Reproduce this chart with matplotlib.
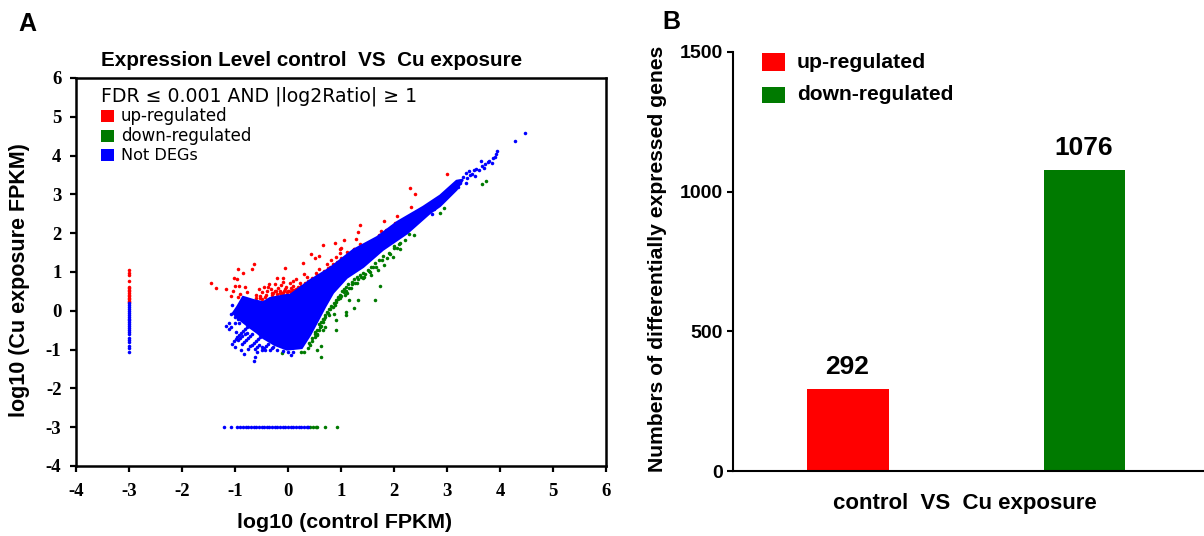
import matplotlib
matplotlib.use('Agg')
import matplotlib.pyplot as plt
from matplotlib.patches import Rectangle

########################################################################################
# Panel A, values (log10 FPKM)
cloud_x = [-1.04, -0.96, -0.85, -0.66, -0.47, -0.34, -0.02, 0.04, 0.42, 0.79, 1.23, 1.68, 2.06, 2.55, 2.87, 3.18,
           3.3, 3.18, 2.87, 2.68, 2.25, 1.79, 1.42, 1.11, 0.85, 0.7, 0.6, 0.42, 0.26, -0.02, -0.25, -0.47, -0.58,
           -0.75, -0.9]
cloud_y = [-0.06, 0.1, 0.36, 0.28, 0.22, 0.33, 0.41, 0.41, 0.79, 1.1, 1.57, 1.9, 2.29, 2.68, 2.97, 3.35,
           3.38, 3.12, 2.7, 2.52, 2.0, 1.57, 1.13, 0.85, 0.46, 0.1, -0.16, -0.62, -0.96, -1.0, -0.88, -0.7, -0.57,
           -0.4, -0.24]

blue_x = [4.48, 4.29, 3.92, 3.87, 3.8, 3.72, 3.64, 3.5, 3.35, 3.2, 3.1, 2.75, 2.72, 2.65,
          3.95, 3.9, 3.84, 3.78, 3.7, 3.66, 3.6, 3.55, 3.48, 3.42, 3.38, 3.3, 3.25, 3.35, 3.44, 3.52,
          -1.17, -1.12, -1.0, -0.92, -1.08, -1.05, -1.05, -1.0, -0.88, -0.83, -0.75, -0.65, -0.62, -0.59,
          -0.5, -0.44, -0.28, 0.06, -0.97, -0.93, -0.89, -0.85, -0.81, -0.77, -0.73, -0.87, -0.83,
          -0.79, -0.75, -0.71, -0.67, -0.98, -0.72, -0.68, -0.64, -0.6, -0.56, -0.52, -0.62, -0.58, -0.54,
          -0.5, -0.46, -0.42, -0.38, -0.34, -0.3, -0.2, -0.1, 0.0, 0.1,
          -1.02, -0.98, -0.94, -0.9, -0.86, -0.82, -0.78, -1.0, -0.95, -1.12, -1.07]
blue_y = [4.58, 4.38, 4.04, 3.95, 3.85, 3.78, 3.87, 3.62, 3.55, 3.2, 3.15, 2.62, 2.5, 2.55,
          4.12, 3.97, 3.8, 3.83, 3.68, 3.72, 3.62, 3.66, 3.52, 3.6, 3.42, 3.45, 3.3, 3.3, 3.5, 3.48,
          -0.39, -0.31, -0.31, -0.31, -0.08, 0.14, -0.85, -0.93, -1.0, -1.12, -0.98, -1.29, -1.19, -1.06,
          -0.93, -1.02, -0.93, -1.13, -0.68, -0.63, -0.58, -0.53, -0.48, -0.43, -0.38, -0.85, -0.80,
          -0.75, -0.70, -0.65, -0.6, -0.55, -0.92, -0.87, -0.82, -0.77, -0.72, -0.67, -0.98, -0.93, -0.88,
          -1.0, -0.95, -0.9, -0.85, -1.02, -0.97, -1.0, -1.04, -1.05, -1.06,
          -0.78, -0.72, -0.76, -0.7, -0.66, -0.6, -0.56, -0.15, -0.2, -0.46, -0.42]

red_x = [-1.45, -1.35, -0.64, -0.68, -0.94, -0.84, -1.02, -0.97, -1.0, -0.93, -0.81, -1.17, -1.03, -0.9, -0.78,
         -1.07, -0.95, -0.6, -0.55, -0.5, -0.45, -0.4, -0.35, -0.33, -0.28, -0.25, -0.22, -0.18, -0.15, -0.1,
         -0.08, -0.04, 0.0, 0.03, 0.06, 0.1, 0.12, 0.15, 0.18, 0.22, 0.25, 0.3, 0.33, 0.38, 0.42, 0.46, 0.5,
         0.55, 0.6, 0.65, 0.68, 0.72, 0.76, 0.8, 0.84, 0.88, 0.92, 0.96, 1.0, 1.05, 1.1, 1.15, 1.2, 1.26,
         1.32, 1.38, 1.44, 1.5, 1.58, 1.65, 1.72, 1.78, 1.85, 1.95, 2.02, -0.05, -0.2, -0.09, 0.28, 0.44, 0.51,
         0.59, 0.66, 0.89, 1.06, 1.28, 1.36, 1.32, 1.82, 2.06, 2.33, 2.4, 2.3, 3.0, -0.5, -0.62,
         -0.52, -0.42, -0.3, -0.2, -0.12, -0.02, 0.08, 0.16, 0.24, 0.32, 0.4, 0.48, 0.56, 0.62, 0.7, 0.78, 0.86,
         0.94, 1.02, 1.08, 1.14, 1.22, 1.3, 1.4, 1.48, 1.56, 1.62, 1.7, 0.52, 0.74, 0.82, 0.9, 0.98, 1.12, 1.24,
         1.35, -0.38, -0.14, 0.1, 0.36, 0.58, 0.98, 1.0, 1.75, 1.9,
         -0.3, -0.25, -0.15, -0.1, -0.05, 0.02, 0.05, 0.1, 0.15, 0.2, 0.25, 0.3, 0.35, 0.4, 0.45, 0.5, 0.55, 0.6,
         0.65, 0.7, 0.75, 0.8, 0.85, 0.9, 0.95, 1.05, 1.1, 1.15, 1.25, -0.6, -0.52, -0.44]
red_y = [0.71, 0.58, 1.21, 1.07, 1.07, 0.97, 0.85, 0.82, 0.65, 0.64, 0.61, 0.56, 0.51, 0.44, 0.48,
         0.37, 0.35, 0.42, 0.55, 0.48, 0.62, 0.5, 0.68, 0.55, 0.45, 0.7, 0.5, 0.6, 0.46, 0.75,
         0.52, 0.62, 0.5, 0.72, 0.58, 0.65, 0.54, 0.82, 0.62, 0.72, 0.6, 0.95, 0.68, 0.78, 0.66, 0.85, 0.72,
         0.92, 0.78, 0.95, 1.02, 0.98, 1.1, 1.05, 1.2, 1.12, 1.25, 1.18, 1.35, 1.25, 1.42, 1.32, 1.45, 1.52,
         1.48, 1.6, 1.58, 1.72, 1.78, 1.82, 1.95, 1.98, 2.08, 2.15, 2.25, 1.11, 0.85, 0.85, 1.23, 1.47, 1.37,
         1.42, 1.7, 1.76, 1.83, 1.85, 2.2, 2.02, 2.32, 2.45, 2.67, 3.01, 3.16, 3.52, 0.3, 0.15,
         0.38, 0.42, 0.42, 0.44, 0.46, 0.48, 0.52, 0.56, 0.65, 0.72, 0.74, 0.8, 0.86, 0.88, 0.96, 1.0, 1.08,
         1.12, 1.2, 1.22, 1.28, 1.36, 1.42, 1.5, 1.55, 1.66, 1.72, 1.82, 0.98, 1.2, 1.32, 1.38, 1.48, 1.52, 1.6,
         1.72, 0.62, 0.66, 0.78, 0.88, 1.08, 1.58, 1.62, 2.06, 2.12,
         0.45, 0.52, 0.52, 0.45, 0.56, 0.5, 0.46, 0.54, 0.5, 0.58, 0.55, 0.62, 0.6, 0.7, 0.66, 0.8, 0.86, 0.84,
         0.9, 0.95, 1.02, 1.14, 1.12, 1.2, 1.24, 1.36, 1.38, 1.5, 1.6, 0.32, 0.34, 0.36]

green_x = [3.73, 3.66, 2.95, 2.87, 2.37, 2.28, 2.12, 2.12, 2.0, 1.99, 1.86, 1.81, 1.7, 1.74, 1.65, 1.57, 1.44,
           1.33, 1.16, 1.25, 1.09, 1.1, 1.12, 0.86, 0.91, 0.91, 0.7, 0.66, 0.55, 0.63, 0.55, 0.63, -0.12, 0.31,
           0.25, 0.38, 0.42, 0.46, 0.5, 0.54, 0.58, 0.62, 0.66, 0.7, 0.75, 0.8, 0.85, 0.9, 0.95, 1.0, 1.05, 1.1,
           1.15, 1.2, 1.26, 1.32, 1.38, 1.45, 1.52, 1.6, 0.4, 0.5, 0.6, 0.68, 0.78, 0.88, 0.98, 1.08, 1.18, 1.3,
           1.42, 1.55, 1.66, 1.78, 1.92, 2.05, 2.2,
           0.45, 0.5, 0.55, 0.58, 0.62, 0.66, 0.7, 0.74, 0.78, 0.82, 0.86, 0.9, 0.94, 0.98, 1.02, 1.06, 1.1, 1.14,
           1.2, 1.25, 1.3, 1.36, 1.42, 1.5, 1.56, 1.64, 1.72, 1.8, 1.9, 2.0, 2.1]
green_y = [3.34, 3.26, 2.65, 2.51, 1.96, 1.98, 1.74, 1.6, 1.66, 1.38, 1.36, 1.19, 1.06, 0.65, 0.27, 0.93, 0.87,
           0.28, 0.27, 0.07, -0.03, -0.12, 0.46, -0.09, -0.23, -0.49, -0.42, -0.5, -0.59, -0.91, -1.02, -1.18, -1.1, -1.06,
           -1.07, -0.95, -0.88, -0.78, -0.68, -0.62, -0.5, -0.38, -0.3, -0.15, -0.05, 0.05, 0.1, 0.22, 0.3, 0.38, 0.48, 0.52,
           0.6, 0.68, 0.72, 0.82, 0.88, 0.95, 1.02, 1.12, -0.82, -0.55, -0.42, -0.22, -0.12, 0.15, 0.32, 0.42, 0.58, 0.72,
           0.85, 1.0, 1.12, 1.3, 1.46, 1.62, 1.82,
           -0.7, -0.6, -0.5, -0.35, -0.28, -0.2, -0.1, -0.02, 0.05, 0.12, 0.2, 0.28, 0.36, 0.42, 0.5, 0.56, 0.62, 0.68,
           0.74, 0.82, 0.86, 0.92, 0.98, 1.06, 1.14, 1.24, 1.3, 1.42, 1.5, 1.62, 1.72]

# points sitting on x = -3 (no control expression)
col_blue_y = [0.2, 0.15, 0.1, 0.05, 0.0, -0.05, -0.1, -0.15, -0.2, -0.25, -0.3, -0.35, -0.4, -0.45, -0.5,
              -0.55, -0.6, -0.7, -0.75, -0.8, -0.92, -0.97, -1.05]
col_red_y = [0.22, 0.26, 0.3, 0.34, 0.38, 0.42, 0.46, 0.5, 0.54, 0.58, 0.62, 0.78, 0.93, 0.98, 1.04]
# points sitting on y = -3 (no Cu expression)
row_blue_x = [-1.21, -1.08, -0.96, -0.9, -0.85, -0.8, -0.75, -0.7, -0.65, -0.6, -0.55, -0.5, -0.45, -0.4, -0.35,
              -0.3, -0.25, -0.2, -0.15, -0.1, -0.05, 0.0, 0.05, 0.1, 0.15, 0.2, 0.25, 0.3, 0.35, 0.38]
row_green_x = [0.42, 0.47, 0.52, 0.55, 0.69, 0.92]

# Panel B
groups = [0, 1]
bar_values = [292, 1076]
bar_labels = ['292', '1076']
########################################################################################

RED = '#ff0000'
GREEN = '#007a00'
BLUE = '#0000ff'
W, H = 1204, 536
SANS = 'Liberation Sans'
PUNTO = 6.5

def caja(izq, der, arriba, abajo):
    # axes box from pixel positions of the reference
    return [izq / W, 1 - abajo / H, (der - izq) / W, (abajo - arriba) / H]

def texto(fig, x, y, s, **kw):
    fig.text(x / W, 1 - y / H, s, va='center', **kw)

def cuadro(fig, x0, x1, y0, y1, color):
    fig.add_artist(Rectangle((x0 / W, 1 - y1 / H), (x1 - x0) / W, (y1 - y0) / H,
                             transform=fig.transFigure, color=color, lw=0))

fig = plt.figure(figsize=(W / 100, H / 100), dpi=100)

# ---- panel A
ax = fig.add_axes(caja(76, 606, 78, 466))
ax.fill(cloud_x, cloud_y, color=BLUE, lw=1.5, zorder=3)
ax.scatter(green_x + row_green_x, green_y + [-3] * len(row_green_x), s=PUNTO, color=GREEN, lw=0, zorder=2)
ax.scatter(red_x + [-3] * len(col_red_y), red_y + col_red_y, s=PUNTO, color=RED, lw=0, zorder=2)
ax.scatter(blue_x + [-3] * len(col_blue_y) + row_blue_x,
           blue_y + col_blue_y + [-3] * len(row_blue_x), s=PUNTO, color=BLUE, lw=0, zorder=3)
ax.set_xlim(-4, 6)
ax.set_ylim(-4, 6)
ax.set_xticks(range(-4, 7))
ax.set_yticks(range(-4, 7))
ax.set_xticklabels([str(v) for v in range(-4, 7)])
ax.set_yticklabels([str(v) for v in range(-4, 7)])
for s in ax.spines.values():
    s.set_linewidth(1.8)
ax.tick_params(length=4.5, width=1.6)
ax.tick_params(axis='x', pad=8)
ax.tick_params(axis='y', pad=6)
for t in ax.get_xticklabels() + ax.get_yticklabels():
    t.set_fontfamily('Liberation Serif')
    t.set_fontweight('bold')
    t.set_fontsize(13.5)

texto(fig, 312, 61, 'Expression Level control  VS  Cu exposure', ha='center', family=SANS,
      weight='bold', fontsize=14.9)
texto(fig, 345, 522, 'log10 (control FPKM)', ha='center', family=SANS, weight='bold', fontsize=15.4)
fig.text(20 / W, 1 - 280 / H, 'log10 (Cu exposure FPKM)', rotation=90, ha='center', va='center',
         family=SANS, weight='bold', fontsize=15.5)
texto(fig, 101, 96, 'FDR \u2264 0.001 AND |log2Ratio| \u2265 1', ha='left', family='DejaVu Sans', fontsize=13.6)
cuadro(fig, 101, 114, 110, 122, RED)
cuadro(fig, 101, 114, 130, 142, GREEN)
cuadro(fig, 101, 114, 149, 161, BLUE)
texto(fig, 121, 116, 'up-regulated', ha='left', family='DejaVu Sans', fontsize=12)
texto(fig, 121, 136, 'down-regulated', ha='left', family='DejaVu Sans', fontsize=12)
texto(fig, 121, 155, 'Not DEGs', ha='left', family='DejaVu Sans', fontsize=11.6)
texto(fig, 27, 24, 'A', ha='center', family=SANS, weight='bold', fontsize=18)

# ---- panel B
bx = fig.add_axes(caja(733, 1204, 52, 471))
bx.bar(groups, bar_values, width=0.345, color=[RED, GREEN])
for g, v, l in zip(groups, bar_values, bar_labels):
    bx.text(g - 0.005, v + 38, l, ha='center', va='bottom', family=SANS, weight='bold', fontsize=19)
bx.set_xlim(-0.486, 1.505)
bx.set_ylim(0, 1500)
bx.set_xticks([])
bx.set_yticks([0, 500, 1000, 1500])
bx.spines['top'].set_visible(False)
bx.spines['right'].set_visible(False)
bx.spines['left'].set_linewidth(1.5)
bx.spines['bottom'].set_linewidth(1.5)
bx.tick_params(length=4.5, width=1.5, pad=3, labelsize=14)
for t in bx.get_yticklabels():
    t.set_fontfamily(SANS)
    t.set_fontweight('bold')

texto(fig, 965, 503, 'control  VS  Cu exposure', ha='center', family=SANS, weight='bold', fontsize=16)
fig.text(657 / W, 1 - 259 / H, 'Numbers of differentially expressed genes', rotation=90, ha='center',
         va='center', family=SANS, weight='bold', fontsize=15.2)
cuadro(fig, 762, 785, 53, 71, RED)
cuadro(fig, 762, 785, 87, 103, GREEN)
texto(fig, 797, 62, 'up-regulated', ha='left', family=SANS, weight='bold', fontsize=15.3)
texto(fig, 797, 95, 'down-regulated', ha='left', family=SANS, weight='bold', fontsize=15.1)
texto(fig, 671, 22, 'B', ha='center', family=SANS, weight='bold', fontsize=18)

plt.savefig('out.png', dpi=100)
